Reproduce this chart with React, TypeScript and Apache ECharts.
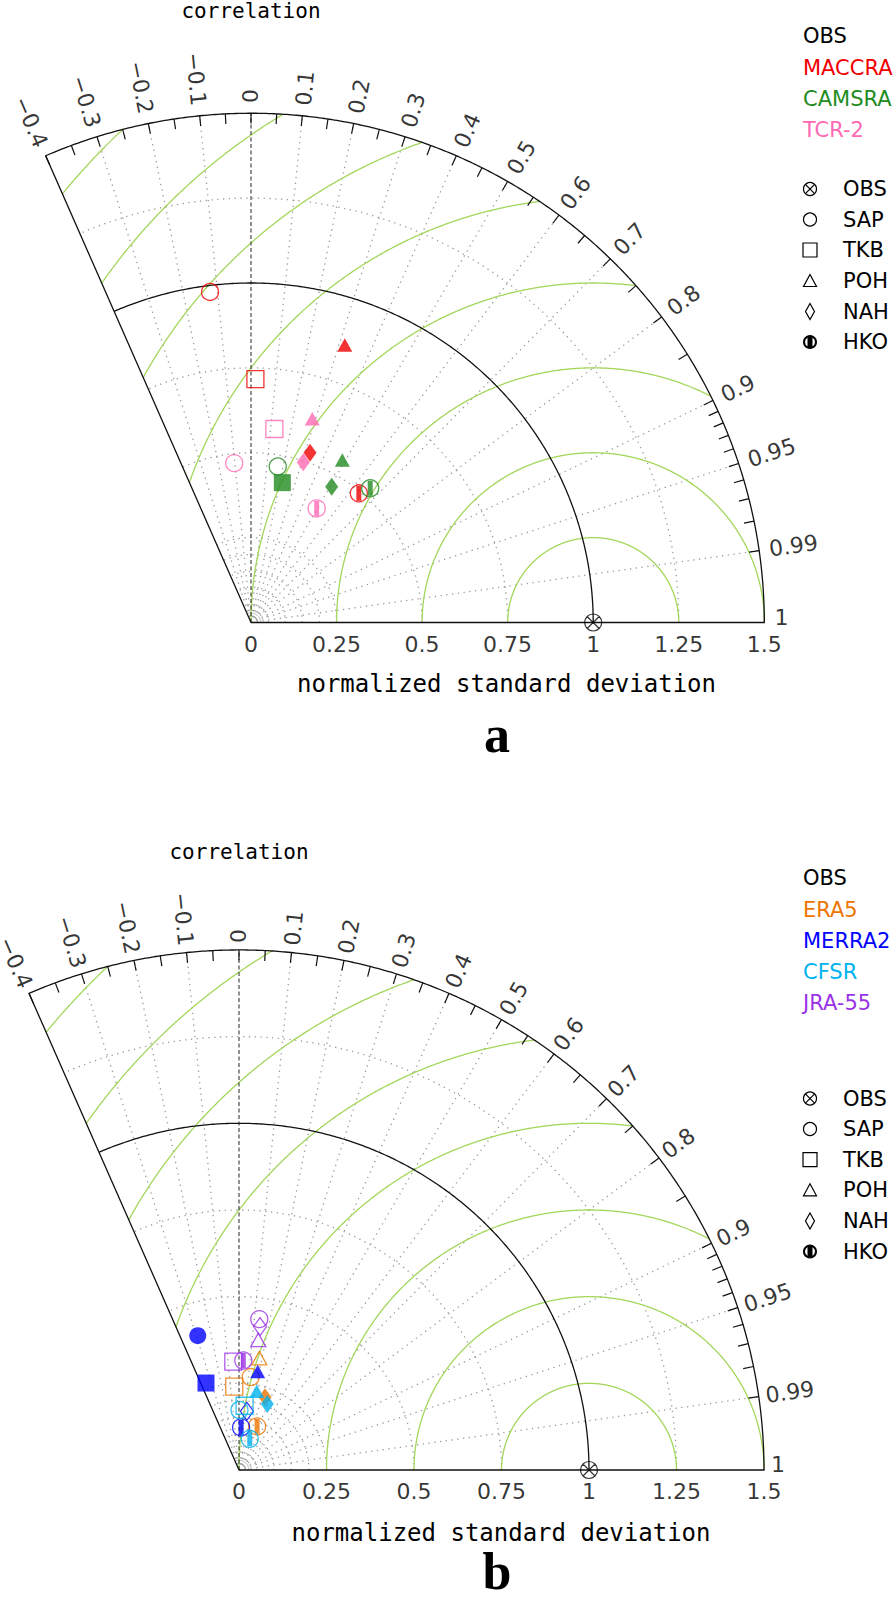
import React, { useEffect, useRef } from "react";
import * as echarts from "echarts";

// ---------------- data ----------------
const STATIONS = ["SAP", "TKB", "POH", "NAH", "HKO"];
const STATION_SHAPES = ["circle", "square", "triangle", "diamond", "hko"];

// panel a
const MACCRA_STD = [0.981, 0.717, 0.862, 0.529, 0.494];
const MACCRA_COR = [-0.122, 0.018, 0.318, 0.326, 0.638];
const MACCRA_FILLED = [false, false, true, true, false];

const CAMSRA_STD = [0.466, 0.422, 0.548, 0.464, 0.527];
const CAMSRA_COR = [0.168, 0.217, 0.487, 0.508, 0.661];
const CAMSRA_FILLED = [false, true, true, true, false];

const TCR2_STD = [0.472, 0.574, 0.626, 0.496, 0.387];
const TCR2_COR = [-0.104, 0.119, 0.286, 0.308, 0.496];
const TCR2_FILLED = [false, false, true, true, false];

// panel b
const ERA5_STD = [0.27, 0.241, 0.328, 0.223, 0.136];
const ERA5_COR = [0.124, -0.056, 0.177, 0.334, 0.38];
const ERA5_FILLED = [false, false, false, true, false];

const MERRA2_STD = [0.405, 0.268, 0.289, 0.171, 0.123];
const MERRA2_COR = [-0.291, -0.352, 0.185, 0.132, 0.049];
const MERRA2_FILLED = [true, true, true, false, false];

const CFSR_STD = [0.173, 0.186, 0.233, 0.207, 0.095];
const CFSR_COR = [0.008, 0.086, 0.218, 0.391, 0.324];
const CFSR_FILLED = [false, false, true, true, false];

const JRA55_STD = [0.439, 0.313, 0.379, 0.418, 0.316];
const JRA55_COR = [0.132, -0.052, 0.145, 0.144, 0.039];
const JRA55_FILLED = [false, false, false, false, false];

const OBS_STD = 1;
const OBS_COR = 1;

// axes / tick labels
const CORR_LABELS = [-0.4, -0.3, -0.2, -0.1, 0, 0.1, 0.2, 0.3, 0.4, 0.5, 0.6, 0.7, 0.8, 0.9, 0.95, 0.99, 1];
const CORR_GRID = [-0.3, -0.2, -0.1, 0.1, 0.2, 0.3, 0.4, 0.5, 0.6, 0.7, 0.8, 0.9, 0.95, 0.99];
const STD_LABELS = [0, 0.25, 0.5, 0.75, 1, 1.25, 1.5];
const STD_GRID = [0.25, 0.5, 0.75, 1.25];
const STD_SMALL = [0.05, 0.1, 0.15, 0.2];
const RMS_LEVELS = [0.25, 0.5, 0.75, 1, 1.25, 1.5, 1.75, 2];

const SETS_A = [
  { name: "MACCRA", color: "#f00000", std: MACCRA_STD, cor: MACCRA_COR, filled: MACCRA_FILLED },
  { name: "CAMSRA", color: "#228b22", std: CAMSRA_STD, cor: CAMSRA_COR, filled: CAMSRA_FILLED },
  { name: "TCR-2", color: "#ff69b4", std: TCR2_STD, cor: TCR2_COR, filled: TCR2_FILLED },
];
const SETS_B = [
  { name: "ERA5", color: "#ee7600", std: ERA5_STD, cor: ERA5_COR, filled: ERA5_FILLED },
  { name: "MERRA2", color: "#0000ff", std: MERRA2_STD, cor: MERRA2_COR, filled: MERRA2_FILLED },
  { name: "CFSR", color: "#00b2ee", std: CFSR_STD, cor: CFSR_COR, filled: CFSR_FILLED },
  { name: "JRA-55", color: "#9a32e6", std: JRA55_STD, cor: JRA55_COR, filled: JRA55_FILLED },
];

// ---------------- geometry helpers ----------------
const R_OUT = 1.5;
const TH_MAX = Math.acos(-0.4);
const toXY = (s: number, c: number): number[] => [s * c, s * Math.sqrt(Math.max(0, 1 - c * c))];

function arcPts(r: number, th0: number, th1: number, n = 240): number[][] {
  const pts: number[][] = [];
  for (let i = 0; i <= n; i++) {
    const t = th0 + ((th1 - th0) * i) / n;
    pts.push([r * Math.cos(t), r * Math.sin(t)]);
  }
  return pts;
}

function rmsSegments(r: number): number[][][] {
  const pt = (t: number) => [1 + r * Math.cos(t), r * Math.sin(t)];
  const inside = (t: number) => {
    const [x, y] = pt(t);
    return Math.hypot(x, y) <= R_OUT + 1e-9 && Math.atan2(y, x) <= TH_MAX + 1e-9 && y >= -1e-9;
  };
  const N = 1200;
  const segs: number[][][] = [];
  let cur: number[][] | null = null;
  let prevT = 0;
  for (let i = 0; i <= N; i++) {
    const t = (Math.PI * i) / N;
    const ins = inside(t);
    if (ins) {
      if (!cur) {
        cur = [];
        if (i > 0) {
          let a = prevT, b = t;
          for (let k = 0; k < 40; k++) { const m = (a + b) / 2; if (inside(m)) b = m; else a = m; }
          cur.push(pt(b));
        }
      }
      cur.push(pt(t));
    } else if (cur) {
      let a = prevT, b = t;
      for (let k = 0; k < 40; k++) { const m = (a + b) / 2; if (inside(m)) a = m; else b = m; }
      cur.push(pt(a));
      segs.push(cur);
      cur = null;
    }
    prevT = t;
  }
  if (cur) segs.push(cur);
  return segs;
}

const fmt = (v: number) => String(v).replace("-", "\u2212");

function markerData(std: number[], cor: number[], filled: boolean[], color: string) {
  const out: any[] = [];
  for (let i = 0; i < std.length; i++) {
    const v = toXY(std[i], cor[i]);
    const shape = STATION_SHAPES[i];
    const open = { color: "none", borderColor: color, borderWidth: 1.3 };
    const solid = { color, borderColor: color, borderWidth: 0 };
    if (shape === "hko") {
      out.push({ value: v, symbol: "circle", symbolSize: 17, itemStyle: open });
      out.push({ value: v, symbol: "rect", symbolSize: [5, 15], itemStyle: solid });
    } else {
      const sym = ({ circle: "circle", square: "rect", triangle: "triangle", diamond: "diamond" } as any)[shape];
      const size = ({ circle: 17, square: 17, triangle: [15, 13.5], diamond: [13, 18] } as any)[shape];
      out.push({ value: v, symbol: sym, symbolSize: size, itemStyle: filled[i] ? solid : open });
    }
  }
  return out;
}

const OBS_PATH =
  "path://M10,0 A10,10 0 1,1 -10,0 A10,10 0 1,1 10,0 Z M-7.07,-7.07 L7.07,7.07 M7.07,-7.07 L-7.07,7.07";

// ---------------- layout ----------------
const X_MIN = -0.65, X_MAX = 1.6, Y_MIN = -0.1, Y_MAX = 1.6;
const PANELS = [
  {
    ox: 251, oy: 622.5, xu: 342.2, yu: 339.5, sets: SETS_A, labR: 1.53,
    corrTitle: [251, 11], xTitle: [506.5, 684], letter: "a", letterPos: [497, 734],
    namesY: [36, 67.5, 99, 130], marksY: [189, 219.5, 250, 281, 311.5, 342],
  },
  {
    ox: 239, oy: 1470, xu: 350, yu: 346.7, sets: SETS_B, labR: 1.52,
    corrTitle: [239, 852], xTitle: [501, 1533], letter: "b", letterPos: [497, 1571],
    namesY: [878, 909.5, 941, 972, 1003], marksY: [1098.5, 1129, 1159.7, 1190.3, 1221, 1251.5],
  },
];

const MONO = "DejaVu Sans Mono";
const SANS = "DejaVu Sans";

function legendMarker(shape: string, cx: number, cy: number): any[] {
  const st = { fill: "none", stroke: "#000", lineWidth: 1.2 };
  switch (shape) {
    case "obs":
      return [
        { type: "circle", shape: { cx, cy, r: 6.5 }, style: st },
        { type: "line", shape: { x1: cx - 4.6, y1: cy - 4.6, x2: cx + 4.6, y2: cy + 4.6 }, style: st },
        { type: "line", shape: { x1: cx + 4.6, y1: cy - 4.6, x2: cx - 4.6, y2: cy + 4.6 }, style: st },
      ];
    case "circle":
      return [{ type: "circle", shape: { cx, cy, r: 6.5 }, style: st }];
    case "square":
      return [{ type: "rect", shape: { x: cx - 7, y: cy - 7, width: 14, height: 14 }, style: st }];
    case "triangle":
      return [{ type: "polygon", shape: { points: [[cx, cy - 6.5], [cx + 6.5, cy + 5.5], [cx - 6.5, cy + 5.5]] }, style: st }];
    case "diamond":
      return [{ type: "polygon", shape: { points: [[cx, cy - 8], [cx + 4.5, cy], [cx, cy + 8], [cx - 4.5, cy]] }, style: st }];
    default:
      return [
        { type: "circle", shape: { cx, cy, r: 6 }, style: { fill: "none", stroke: "#000", lineWidth: 2 } },
        { type: "rect", shape: { x: cx - 2.5, y: cy - 6, width: 5, height: 12 }, style: { fill: "#000" } },
      ];
  }
}

function buildOption() {
  const grids: any[] = [];
  const xAxes: any[] = [];
  const yAxes: any[] = [];
  const series: any[] = [];
  const graphic: any[] = [];

  PANELS.forEach((P, k) => {
    grids.push({
      left: P.ox + X_MIN * P.xu,
      top: P.oy - Y_MAX * P.yu,
      width: (X_MAX - X_MIN) * P.xu,
      height: (Y_MAX - Y_MIN) * P.yu,
      show: false,
    });
    xAxes.push({ type: "value", gridIndex: k, min: X_MIN, max: X_MAX, show: false });
    yAxes.push({ type: "value", gridIndex: k, min: Y_MIN, max: Y_MAX, show: false });

    const base = { coordinateSystem: "cartesian2d", xAxisIndex: k, yAxisIndex: k, silent: true, animation: false };
    const lines = (data: number[][][], lineStyle: any, z: number) => ({
      ...base, type: "lines", polyline: true, clip: false, z,
      data: data.map((c) => ({ coords: c })),
      lineStyle: { opacity: 1, curveness: 0, ...lineStyle },
    });

    // gray dotted grid
    const dotted: number[][][] = [];
    STD_GRID.forEach((r) => dotted.push(arcPts(r, 0, TH_MAX)));
    STD_SMALL.forEach((r) => dotted.push(arcPts(r, 0, TH_MAX, 60)));
    CORR_GRID.forEach((c) => dotted.push([[0, 0], toXY(R_OUT, c)]));
    series.push(lines(dotted, { color: "#9a9a9a", width: 1.3, type: [1.3, 4.5] }, 1));
    series.push(lines([arcPts(0.028, 0, TH_MAX, 30)], { color: "#b5b5b5", width: 1 }, 1));

    // green RMS arcs centred on OBS
    const green: number[][][] = [];
    RMS_LEVELS.forEach((r) => rmsSegments(r).forEach((s) => green.push(s)));
    series.push(lines(green, { color: "#a3d65a", width: 1.3 }, 2));

    // dashed zero-correlation line
    series.push(lines([[[0, 0], toXY(R_OUT, 0)]], { color: "#222", width: 1, type: [4, 2.5] }, 3));

    // frame + unit arc
    const frame = [[0, 0], [R_OUT, 0], ...arcPts(R_OUT, 0, TH_MAX, 400), [0, 0]];
    series.push(lines([frame, arcPts(1, 0, TH_MAX, 300)], { color: "#111", width: 1.3 }, 4));

    // ticks on outer arc
    const tickC: number[] = [];
    for (let i = -8; i <= 18; i++) tickC.push(Math.round(i * 5) / 100);
    for (let i = 91; i <= 99; i++) tickC.push(i / 100);
    series.push(lines(tickC.map((c) => [toXY(R_OUT - 0.03, c), toXY(R_OUT, c)]), { color: "#111", width: 1.2 }, 4));

    // correlation tick labels
    series.push({
      ...base, type: "scatter", clip: false, symbol: "circle", symbolSize: 0.1, z: 5,
      itemStyle: { color: "rgba(0,0,0,0)" },
      data: CORR_LABELS.map((c) => {
        const th = Math.acos(c);
        const deg = (th * 180) / Math.PI;
        const right = deg <= 90.0001;
        return {
          value: toXY(P.labR, c),
          label: {
            show: true, position: c === 1 ? [0, -5] : [0, 0], formatter: fmt(c),
            rotate: right ? deg : deg - 180, align: right ? "left" : "right", verticalAlign: "middle",
            fontSize: 22, fontFamily: SANS, color: "#000",
          },
        };
      }),
    });

    // std tick labels
    series.push({
      ...base, type: "scatter", clip: false, symbol: "circle", symbolSize: 0.1, z: 5,
      itemStyle: { color: "rgba(0,0,0,0)" },
      data: STD_LABELS.map((v) => ({
        value: [v, 0],
        label: {
          show: true, position: [0, 22], formatter: String(v), align: "center", verticalAlign: "middle",
          fontSize: 22, fontFamily: SANS, color: "#000",
        },
      })),
    });

    // data markers
    P.sets.forEach((S, j) => {
      series.push({
        ...base, type: "scatter", clip: false, z: 10 + j, name: S.name,
        data: markerData(S.std, S.cor, S.filled, S.color),
      });
    });

    // OBS reference point
    series.push({
      ...base, type: "scatter", clip: false, z: 20, name: "OBS",
      data: [{ value: toXY(OBS_STD, OBS_COR), symbol: OBS_PATH, symbolSize: 17,
        itemStyle: { color: "none", borderColor: "#000", borderWidth: 1.2 } }],
    });

    // titles
    graphic.push({
      type: "text", x: P.corrTitle[0], y: P.corrTitle[1],
      style: { text: "correlation", fill: "#000", fontSize: 21, fontFamily: MONO, align: "center", verticalAlign: "middle" },
    });
    graphic.push({
      type: "text", x: P.xTitle[0], y: P.xTitle[1],
      style: { text: "normalized standard deviation", fill: "#000", fontSize: 24, fontFamily: MONO, align: "center", verticalAlign: "middle" },
    });
    graphic.push({
      type: "text", x: P.letterPos[0], y: P.letterPos[1],
      style: { text: P.letter, fill: "#000", fontSize: 52, fontWeight: "bold", fontFamily: "Liberation Serif", align: "center", verticalAlign: "middle" },
    });

    // dataset legend
    const names = [{ name: "OBS", color: "#000" }, ...P.sets.map((s) => ({ name: s.name, color: s.color }))];
    names.forEach((n, i) => {
      graphic.push({
        type: "text", x: 803, y: P.namesY[i],
        style: { text: n.name, fill: n.color, fontSize: 21, fontFamily: SANS, align: "left", verticalAlign: "middle" },
      });
    });
    // station legend
    const marks = [{ shape: "obs", name: "OBS" }, ...STATIONS.map((s, i) => ({ shape: STATION_SHAPES[i], name: s }))];
    marks.forEach((m, i) => {
      legendMarker(m.shape, 810, P.marksY[i]).forEach((g) => graphic.push(g));
      graphic.push({
        type: "text", x: 843, y: P.marksY[i],
        style: { text: m.name, fill: "#000", fontSize: 21, fontFamily: SANS, align: "left", verticalAlign: "middle" },
      });
    });
  });

  return {
    animation: false,
    backgroundColor: "#ffffff",
    grid: grids,
    xAxis: xAxes,
    yAxis: yAxes,
    series,
    graphic,
  };
}

export default function App() {
  const ref = useRef<HTMLDivElement>(null);
  useEffect(() => {
    if (!ref.current) return;
    const chart = echarts.init(ref.current, undefined, { renderer: "svg", width: 896, height: 1601 });
    chart.setOption(buildOption() as any);
    return () => chart.dispose();
  }, []);
  return (
    <div
      ref={ref}
      style={{ position: "absolute", left: 0, top: 0, width: 896, height: 1601, background: "#fff" }}
    />
  );
}
